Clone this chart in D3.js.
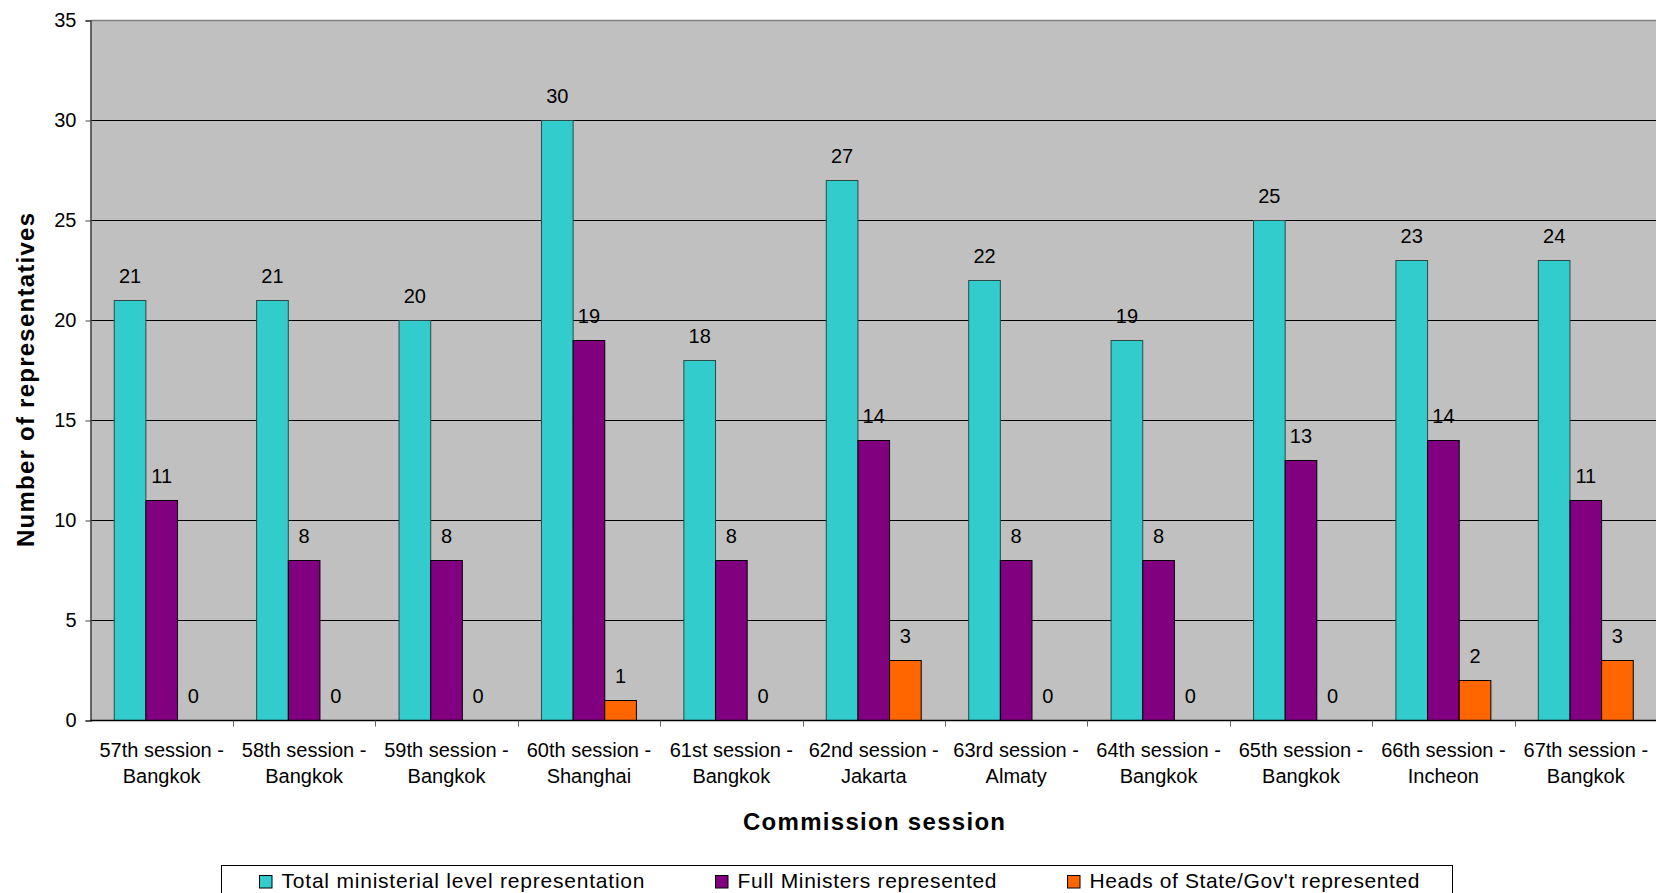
<!DOCTYPE html>
<html>
<head>
<meta charset="utf-8">
<script src="https://cdn.jsdelivr.net/npm/d3@7"></script>
<style>
  body { margin: 0; background: #fff; }
  svg { display: block; font-family: Arial, "Liberation Sans", sans-serif; }
</style>
</head>
<body>
<svg id="chart" width="1656" height="893"></svg>
<script>
/* ---------- data ---------- */
const categories = [
  '57th session - Bangkok', '58th session - Bangkok', '59th session - Bangkok',
  '60th session - Shanghai', '61st session - Bangkok', '62nd session - Jakarta',
  '63rd session - Almaty', '64th session - Bangkok', '65th session - Bangkok',
  '66th session - Incheon', '67th session - Bangkok'
];
const seriesNames = [
  'Total ministerial level representation',
  'Full Ministers represented',
  'Heads of State/Gov\'t represented'
];
const totalValues   = [21, 21, 20, 30, 18, 27, 22, 19, 25, 23, 23];
// the last label in the source reads 24 although its bar stops at 23
const totalLabels   = [21, 21, 20, 30, 18, 27, 22, 19, 25, 23, 24];
const fullMinisters = [11, 8, 8, 19, 8, 14, 8, 8, 13, 14, 11];
const headsOfState  = [0, 0, 0, 1, 0, 3, 0, 0, 0, 2, 3];
const yTicks = [0, 5, 10, 15, 20, 25, 30, 35];

const colors = ['#33CCCC', '#800080', '#FF6600'];

/* ---------- layout ---------- */
const svg = d3.select('#chart');
const plotLeft = 90.5, plotRight = 1657, plotTop = 20.5, plotBottom = 720.5;

const x = d3.scaleBand().domain(categories).range([plotLeft, plotRight]);
const xs = d3.scaleBand().domain(d3.range(3)).range([0, x.bandwidth()])
  .paddingInner(0).paddingOuter(0.75);
const y = d3.scaleLinear().domain([0, 35]).range([plotBottom, plotTop]);

const rows = categories.map((c, i) => ({
  cat: c,
  vals: [
    { s: 0, v: totalValues[i], label: totalLabels[i] },
    { s: 1, v: fullMinisters[i], label: fullMinisters[i] },
    { s: 2, v: headsOfState[i], label: headsOfState[i] }
  ]
}));

// plot background
svg.append('rect')
  .attr('x', plotLeft).attr('y', plotTop)
  .attr('width', plotRight - plotLeft).attr('height', plotBottom - plotTop)
  .attr('fill', '#C0C0C0');

// gridlines
svg.append('g').selectAll('line')
  .data(yTicks.filter(t => t > 0 && t < 35))
  .join('line')
  .attr('x1', plotLeft).attr('x2', plotRight)
  .attr('y1', d => y(d)).attr('y2', d => y(d))
  .attr('stroke', '#000').attr('stroke-width', 1);

// top border of plot area
svg.append('line')
  .attr('x1', plotLeft).attr('x2', plotRight)
  .attr('y1', plotTop).attr('y2', plotTop)
  .attr('stroke', '#808080').attr('stroke-width', 1.5);

// bars
const groups = svg.append('g').selectAll('g')
  .data(rows).join('g')
  .attr('transform', d => `translate(${x(d.cat)},0)`);

groups.selectAll('rect')
  .data(d => d.vals.filter(b => b.v > 0))
  .join('rect')
  .attr('x', d => xs(d.s))
  .attr('y', d => y(d.v))
  .attr('width', xs.bandwidth())
  .attr('height', d => y(0) - y(d.v))
  .attr('fill', d => colors[d.s])
  .attr('stroke', d => d.s === 0 ? '#2a4a4a' : '#000')
  .attr('stroke-width', 1);

groups.selectAll('text')
  .data(d => d.vals)
  .join('text')
  .attr('x', d => xs(d.s) + xs.bandwidth() / 2)
  .attr('y', d => y(d.v) - 18)
  .attr('text-anchor', 'middle')
  .attr('font-size', 20)
  .attr('fill', '#000')
  .text(d => d.label);

// y axis
const yAxis = svg.append('g')
  .attr('transform', `translate(${plotLeft},0)`)
  .call(d3.axisLeft(y).tickValues(yTicks).tickSize(5).tickPadding(9));
yAxis.select('.domain').attr('stroke', '#404040').attr('stroke-width', 1.5);
yAxis.selectAll('.tick line').attr('stroke', '#404040');
yAxis.selectAll('.tick text')
  .attr('font-size', 20).attr('fill', '#000')
  .attr('font-family', 'Arial, "Liberation Sans", sans-serif');

// x axis
svg.append('line')
  .attr('x1', plotLeft).attr('x2', plotRight)
  .attr('y1', plotBottom).attr('y2', plotBottom)
  .attr('stroke', '#000').attr('stroke-width', 1.5);

svg.append('g').selectAll('line')
  .data(categories.slice(1))
  .join('line')
  .attr('x1', d => Math.round(x(d)) + 0.5).attr('x2', d => Math.round(x(d)) + 0.5)
  .attr('y1', plotBottom).attr('y2', plotBottom + 6)
  .attr('stroke', '#606060');

const xLabels = svg.append('g').selectAll('text')
  .data(categories).join('text')
  .attr('text-anchor', 'middle')
  .attr('font-size', 20)
  .attr('fill', '#000');
xLabels.append('tspan')
  .attr('x', d => x(d) + x.bandwidth() / 2).attr('y', 757)
  .text(d => d.split(' - ')[0] + ' -');
xLabels.append('tspan')
  .attr('x', d => x(d) + x.bandwidth() / 2).attr('y', 783)
  .text(d => d.split(' - ')[1]);

// axis titles
svg.append('text')
  .attr('x', 874).attr('y', 830)
  .attr('text-anchor', 'middle')
  .attr('font-size', 24).attr('font-weight', 'bold')
  .attr('textLength', 262).attr('lengthAdjust', 'spacing')
  .text('Commission session');

svg.append('text')
  .attr('transform', 'translate(34,380) rotate(-90)')
  .attr('text-anchor', 'middle')
  .attr('font-size', 24).attr('font-weight', 'bold')
  .attr('textLength', 334).attr('lengthAdjust', 'spacing')
  .text('Number of representatives');

/* ---------- legend ---------- */
const legend = svg.append('g');
legend.append('rect')
  .attr('x', 221.5).attr('y', 865.5)
  .attr('width', 1231).attr('height', 40)
  .attr('fill', '#fff').attr('stroke', '#000');

const legendX = [259, 715, 1067];
const legendW = [363, 259, 330];
const items = legend.selectAll('g.item')
  .data(seriesNames).join('g')
  .attr('class', 'item')
  .attr('transform', (d, i) => `translate(${legendX[i]},0)`);
items.append('rect')
  .attr('x', 0.5).attr('y', 875.5)
  .attr('width', 12.5).attr('height', 12.5)
  .attr('fill', (d, i) => colors[i])
  .attr('stroke', '#000');
items.append('text')
  .attr('x', 22.5)
  .attr('y', 888)
  .attr('font-size', 21)
  .attr('textLength', (d, i) => legendW[i]).attr('lengthAdjust', 'spacing')
  .text(d => d);
</script>
</body>
</html>
